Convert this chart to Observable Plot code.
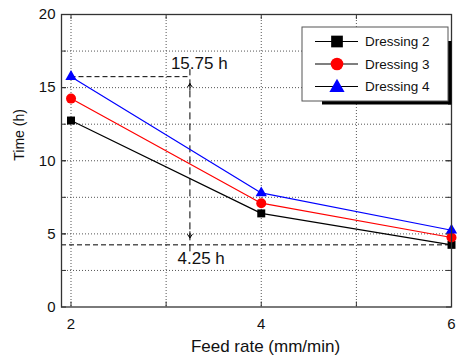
<!DOCTYPE html>
<html>
<head>
<meta charset="utf-8">
<script src="https://cdn.jsdelivr.net/npm/d3@7"></script>
<script src="https://cdn.jsdelivr.net/npm/@observablehq/plot@0.6"></script>
<style>
  html, body { margin: 0; padding: 0; background: #fff; }
  #chart { width: 461px; height: 360px; }
</style>
</head>
<body>
<div id="chart"></div>
<script>
// ---- data ----
const feedRate = [2, 4, 6];
const seriesNames = ["Dressing 2", "Dressing 3", "Dressing 4"];
const dressing2 = [12.75, 6.4, 4.25];
const dressing3 = [14.25, 7.1, 4.75];
const dressing4 = [15.75, 7.8, 5.25];
const seriesColors = ["#000000", "#ff0000", "#0000ff"];
const seriesSymbols = ["square", "circle", "triangle"];
const xTicks = [2, 4, 6];
const xGrid = [2, 3, 4, 5, 6];
const yTicks = [0, 5, 10, 15, 20];
const yGrid = [2.5, 5, 7.5, 10, 12.5, 15, 17.5];
const annotMax = [15.75];
const annotMin = [4.25];
const arrowX = [3.25];
const annotLabels = [
  {x: 3.05, y: 16.65, text: "15.75 h"},
  {x: 3.12, y: 3.33, text: "4.25 h"}
];

// ---- table ----
const values = [dressing2, dressing3, dressing4];
const rows = seriesNames.flatMap((s, i) => feedRate.map((x, j) => ({series: s, x, y: values[i][j]})));
const dotR = {"Dressing 2": 4.5, "Dressing 3": 5, "Dressing 4": 4.2};

const W = 461, H = 360, mL = 61, mR = 10, mT = 14, mB = 53.5;
const fw = W - mL - mR, fh = H - mT - mB;
const font = "'Liberation Sans', Arial, sans-serif";

const plot = Plot.plot({
  width: W, height: H,
  marginLeft: mL, marginRight: mR, marginTop: mT, marginBottom: mB,
  style: {fontFamily: font, fontSize: "15px", color: "#111", background: "#fff"},
  x: {type: "linear", domain: [1.9, 6.0]},
  y: {type: "linear", domain: [0, 20]},
  color: {domain: seriesNames, range: seriesColors},
  symbol: {domain: seriesNames, range: seriesSymbols},
  marks: [
    Plot.gridX(xGrid, {stroke: "#555", strokeOpacity: 1, strokeDasharray: "1,2"}),
    Plot.gridY(yGrid, {stroke: "#555", strokeOpacity: 1, strokeDasharray: "1,2"}),
    // inward ticks
    Plot.ruleY(yGrid.concat(yTicks), {insetRight: fw - 5, stroke: "#333"}),
    Plot.ruleY(yGrid.concat(yTicks), {insetLeft: fw - 5, stroke: "#333"}),
    Plot.ruleX(xGrid, {insetTop: fh - 5, stroke: "#333"}),
    Plot.ruleX(xGrid, {insetBottom: fh - 5, stroke: "#333"}),
    // annotations
    Plot.ruleY(annotMax, {x1: 2, x2: arrowX[0], stroke: "#000", strokeDasharray: "5,3"}),
    Plot.ruleY(annotMin, {stroke: "#000", strokeDasharray: "5,3"}),
    Plot.ruleX(arrowX, {y1: annotMin[0], y2: annotMax[0], insetTop: 7, insetBottom: 7, stroke: "#000", strokeDasharray: "7,4"}),
    Plot.arrow(arrowX, {x1: d => d, x2: d => d, y1: annotMin[0], y2: annotMax[0], insetStart: 155, insetEnd: 7, headLength: 6, headAngle: 70, stroke: "#000", strokeWidth: 1}),
    Plot.arrow(arrowX, {x1: d => d, x2: d => d, y1: annotMax[0], y2: annotMin[0], insetStart: 155, insetEnd: 7, headLength: 6, headAngle: 70, stroke: "#000", strokeWidth: 1}),
    Plot.text(annotLabels, {x: "x", y: "y", text: "text", textAnchor: "start", fontSize: 17, fill: "#111"}),
    // series
    Plot.line(rows, {x: "x", y: "y", z: "series", stroke: "series", strokeWidth: 1.2}),
    ...seriesNames.map(s => Plot.dot(rows.filter(d => d.series === s), {x: "x", y: "y", symbol: "series", fill: "series", r: dotR[s], stroke: "none"})),
    Plot.frame({stroke: "#333", strokeWidth: 1.3}),
    // axes
    Plot.axisX(xTicks, {tickSize: 0, tickPadding: 11, label: null, fontSize: 15}),
    Plot.axisY(yTicks, {tickSize: 0, tickPadding: 6, label: null, fontSize: 15}),
    Plot.text(["Feed rate (mm/min)"], {frameAnchor: "bottom", dx: 9, dy: 45, fontSize: 17, fill: "#111"}),
    Plot.text(["Time (h)"], {frameAnchor: "left", dx: -41.5, rotate: -90, fontSize: 14, fill: "#111"})
  ]
});

// ---- legend ----
const svg = d3.select(plot);
const lg = svg.append("g").attr("font-family", font).attr("text-anchor", "start");
lg.append("rect").attr("x", 322).attr("y", 101).attr("width", 129).attr("height", 3.5).attr("fill", "#000");
lg.append("rect").attr("x", 448).attr("y", 41).attr("width", 3.5).attr("height", 63.5).attr("fill", "#000");
lg.append("rect").attr("x", 302).attr("y", 27).attr("width", 146).attr("height", 74)
  .attr("fill", "#fff").attr("stroke", "#555").attr("stroke-width", 1);
const legendY = [41.5, 64, 86.5];
const legendSym = [d3.symbolSquare, d3.symbolCircle, d3.symbolTriangle];
const legendSize = [137, 125, 100];
seriesNames.forEach((s, i) => {
  const y = legendY[i];
  lg.append("line").attr("x1", 315).attr("x2", 358).attr("y1", y).attr("y2", y).attr("stroke", "#000").attr("stroke-width", 1.2);
  lg.append("path").attr("d", d3.symbol(legendSym[i], legendSize[i])()).attr("transform", `translate(337,${y + (i === 2 ? 1 : 0)})`).attr("fill", seriesColors[i]);
  lg.append("text").attr("x", 365).attr("y", y).attr("dy", "0.35em").attr("text-anchor", "start").attr("font-size", 13.5).attr("fill", "#111").text(s);
});

document.getElementById("chart").appendChild(plot);
</script>
</body>
</html>
